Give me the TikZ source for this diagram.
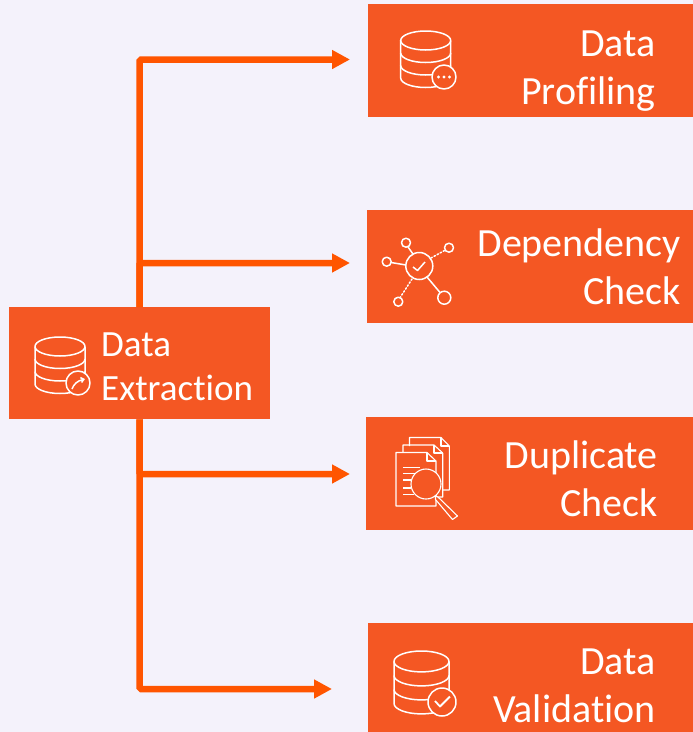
\documentclass[tikz,border=0pt]{standalone}
\usepackage{fontspec}
\setmainfont[Ligatures=NoCommon]{Carlito}
\usetikzlibrary{arrows.meta}
\definecolor{bgc}{HTML}{F4F2FB}
\definecolor{boxc}{HTML}{F45723}
\definecolor{linec}{HTML}{FF5500}
\tikzset{
  x=1pt,y=-1pt,
  boxnode/.style={fill=boxc,draw=none,anchor=north west,inner sep=0pt},
  txtR/.style={text=white,anchor=north east,align=right,inner sep=0pt,font=\fontsize{40}{48}\selectfont},
  txtL/.style={text=white,anchor=north west,align=left,inner sep=0pt,font=\fontsize{37}{44}\selectfont},
  conn/.style={draw=linec,line width=6.5pt,rounded corners=1.5pt,-{Triangle[length=18pt,width=18pt]}},
  icon/.style={draw=white,line width=1.5pt,line join=round},
}
% database icon: centre x, top y, half width, band step, badge x, badge y, badge r
\newcommand{\dbicon}[7]{%
  \pgfmathsetmacro{\ry}{#3*0.38}%
  \pgfmathsetmacro{\cy}{#2+\ry}%
  \pgfmathsetmacro{\cyA}{\cy+#4}%
  \pgfmathsetmacro{\cyB}{\cy+2*#4}%
  \pgfmathsetmacro{\cyC}{\cy+3*#4}%
  \draw[icon] (#1,\cy) ellipse [x radius=#3,y radius=\ry];
  \draw[icon] (#1-#3,\cy) -- (#1-#3,\cyC) arc [start angle=180,end angle=0,x radius=#3,y radius=\ry] -- (#1+#3,\cy);
  \draw[icon] (#1-#3,\cyA) arc [start angle=180,end angle=0,x radius=#3,y radius=\ry];
  \draw[icon] (#1-#3,\cyB) arc [start angle=180,end angle=0,x radius=#3,y radius=\ry];
  \draw[icon,fill=boxc] (#5,#6) circle [radius=#7];
}
\begin{document}
\begin{tikzpicture}
\useasboundingbox (0,0) rectangle (693,732);
\fill[bgc] (0,0) rectangle (693,732);
\coordinate (tipA) at (350,59.5);
\coordinate (tipB) at (350,263);
\coordinate (tipC) at (350,474);
\coordinate (tipD) at (332,689);
\node[boxnode,minimum width=261pt,minimum height=112pt] (extract) at (9,307) {};
\draw[conn] (extract.north) |- (tipA);
\draw[conn] (extract.north) |- (tipB);
\draw[conn] (extract.south) |- (tipC);
\draw[conn] (extract.south) |- (tipD);
\node[boxnode,minimum width=325pt,minimum height=113pt] (profile) at (368,4) {};
\node[boxnode,minimum width=326pt,minimum height=113pt] (depend) at (367,210) {};
\node[boxnode,minimum width=327pt,minimum height=113pt] (dupl) at (366,417) {};
\node[boxnode,minimum width=325pt,minimum height=109pt] (valid) at (368,623) {};
\node[txtL] (extractT) at (101,332.5) {Data\\Extraction};
\node[txtR] (profileT) at (656,31) {Data\\Profiling};
\node[txtR] (dependT) at (681,229) {Dependency\\Check};
\node[txtR] (duplT) at (658,441) {Duplicate\\Check};
\node[txtR] (validT) at (656,649) {Data\\Validation};
% extraction icon
\dbicon{60}{337}{25}{12.5}{78}{383}{12}
\draw[icon,-{Straight Barb[length=3pt,width=5pt]}] (72,389) .. controls (74,384) and (77,381) .. (85,379);
% profiling icon
\dbicon{425.7}{31}{25}{12.5}{444}{77}{12}
\fill[white] (438.5,77) circle [radius=1.7] (444,77) circle [radius=1.7] (449.5,77) circle [radius=1.7];
% validation icon
\dbicon{421.5}{651}{27.5}{14}{442}{702}{14}
\draw[icon,line width=1.8pt] (435,701) -- (440,706.5) -- (450,696.5);
% dependency icon
\draw[icon] (419.3,266) circle [radius=13.5];
\draw[icon] (406,242.7) circle [radius=4.5];
\draw[icon] (449,247.7) circle [radius=4.5];
\draw[icon] (386.7,261.7) circle [radius=4.5];
\draw[icon] (398.3,301.7) circle [radius=4.5];
\draw[icon] (444.3,297.7) circle [radius=6.5];
\draw[icon] (408,247) -- (413,254);
\draw[icon] (391,262.5) -- (406,265);
\draw[icon] (427,277) -- (440,292.5);
\draw[icon,dotted,line cap=round] (431,258) -- (444.5,250.5);
\draw[icon,dotted,line cap=round] (412,279) -- (400.5,297);
\draw[icon] (413,267) -- (417.5,270.5) -- (425,262);
% duplicate icon
\draw[icon,line width=1.1pt] (409.5,446) -- (409.5,437.5) -- (441,437.5) -- (449.3,446) -- (449.3,490) -- (443,490);
\draw[icon,line width=1.1pt] (441,437.5) -- (441,446) -- (449.3,446);
\draw[icon,line width=1.1pt] (403,452) -- (403,445) -- (434,445) -- (442.7,453) -- (442.7,497) -- (437,497);
\draw[icon,line width=1.1pt] (434,445) -- (434,453) -- (442.7,453);
\draw[icon,line width=1.1pt] (396,452.5) -- (427,452.5) -- (436,461) -- (436,506) -- (396,506) -- cycle;
\draw[icon,line width=1.1pt] (427,452.5) -- (427,461) -- (436,461);
\draw[icon,line width=1.1pt] (403,467.5) -- (420,467.5) (403,473.5) -- (418,473.5) (403,480) -- (412,480) (403,488) -- (411,488) (403,494.5) -- (414,494.5);
\draw[icon,line width=1.1pt,fill=boxc] (426,484) circle [radius=15];
\draw[icon,line width=1.1pt,fill=boxc] (435.5,495.5) -- (438.5,497.5) -- (457.5,516) -- (452.5,519.5) -- (435.5,499.5) -- cycle;
\end{tikzpicture}
\end{document}
